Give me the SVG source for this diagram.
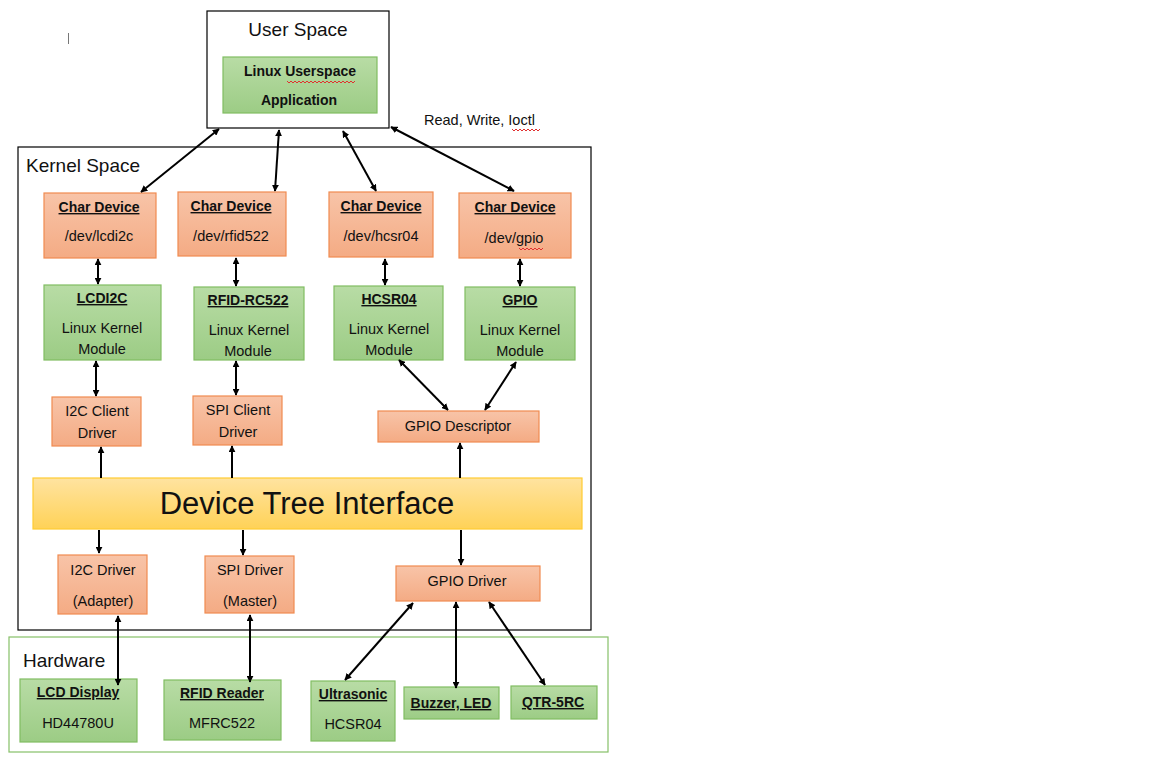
<svg xmlns="http://www.w3.org/2000/svg" width="1152" height="757" viewBox="0 0 1152 757">
<defs>
<linearGradient id="gOr" x1="0" y1="0" x2="0" y2="1"><stop offset="0" stop-color="#f8c4a8"/><stop offset="1" stop-color="#f4ab84"/></linearGradient>
<linearGradient id="gGr" x1="0" y1="0" x2="0" y2="1"><stop offset="0" stop-color="#b8dca5"/><stop offset="1" stop-color="#9ccc85"/></linearGradient>
<linearGradient id="gYe" x1="0" y1="0" x2="0" y2="1"><stop offset="0" stop-color="#ffe3a0"/><stop offset="1" stop-color="#ffd257"/></linearGradient>
<marker id="ah" viewBox="0 0 10 10" refX="9" refY="5" markerWidth="7" markerHeight="7" orient="auto-start-reverse" markerUnits="userSpaceOnUse"><path d="M0,0 L10,5 L0,10 Z" fill="#000"/></marker>
</defs>
<style>
text{font-family:"Liberation Sans",Arial,sans-serif;fill:#111}
.or{fill:url(#gOr);stroke:#f08b50;stroke-width:1.2}
.gr{fill:url(#gGr);stroke:#80bd62;stroke-width:1.2}
.t{font-size:14.5px;text-anchor:middle}
.b{font-size:14px;font-weight:bold;text-anchor:middle;text-decoration:underline}
.h{font-size:19px}
.c line{stroke:#000;stroke-width:2}
.d{marker-start:url(#ah);marker-end:url(#ah)}
.s{marker-end:url(#ah)}
.sq{fill:none;stroke:#e03030;stroke-width:1}
</style>
<rect width="1152" height="757" fill="#fff"/>
<line x1="68.5" y1="33" x2="68.5" y2="44" stroke="#777" stroke-width="1"/>

<g id="kernel"><rect x="18" y="147" width="573" height="483" fill="none" stroke="#000" stroke-width="1.2"/><text x="26" y="172" class="h">Kernel Space</text></g>
<g id="hardware"><rect x="9" y="637" width="599" height="115" fill="none" stroke="#86c068" stroke-width="1.2"/><text x="23" y="667" class="h">Hardware</text></g>
<g id="userspace"><rect x="207" y="11" width="182" height="117" fill="#fff" stroke="#000" stroke-width="1.2"/><text x="298" y="36" class="h" text-anchor="middle">User Space</text></g>
<g id="app"><rect x="223" y="57" width="154" height="56" class="gr"/><text x="300" y="76" class="b" style="text-decoration:none">Linux Userspace</text><text x="299" y="105" class="b" style="text-decoration:none">Application</text><path class="sq" d="M287,81 l2,2 l2,-2 l2,2 l2,-2 l2,2 l2,-2 l2,2 l2,-2 l2,2 l2,-2 l2,2 l2,-2 l2,2 l2,-2 l2,2 l2,-2 l2,2 l2,-2 l2,2 l2,-2 l2,2 l2,-2 l2,2 l2,-2 l2,2 l2,-2 l2,2 l2,-2 l2,2 l2,-2 l2,2 l2,-2 l2,2 l2,-2"/></g>
<g id="rwlabel"><text x="424" y="125" font-size="14.5px">Read, Write, Ioctl</text><path class="sq" d="M512,129 l2,2 l2,-2 l2,2 l2,-2 l2,2 l2,-2 l2,2 l2,-2 l2,2 l2,-2 l2,2 l2,-2 l2,2 l2,-2"/></g>

<g id="cd1"><rect x="44" y="193" width="112" height="65" class="or"/><text x="99" y="212" class="b">Char Device</text><text x="99" y="241" class="t">/dev/lcdi2c</text></g>
<g id="cd2"><rect x="178" y="192" width="108" height="64" class="or"/><text x="231" y="211" class="b">Char Device</text><text x="231" y="241" class="t">/dev/rfid522</text></g>
<g id="cd3"><rect x="329" y="192" width="104" height="65" class="or"/><text x="381" y="211" class="b">Char Device</text><text x="381" y="241" class="t">/dev/hcsr04</text></g>
<g id="cd4"><rect x="459" y="193" width="112" height="65" class="or"/><text x="515" y="212" class="b">Char Device</text><text x="514" y="243" class="t">/dev/gpio</text><path class="sq" d="M519,248 l2,2 l2,-2 l2,2 l2,-2 l2,2 l2,-2 l2,2 l2,-2 l2,2 l2,-2 l2,2 l2,-2"/></g>

<g id="m1"><rect x="44" y="285" width="117" height="75" class="gr"/><text x="102" y="303" class="b">LCDI2C</text><text x="102" y="333" class="t">Linux Kernel</text><text x="102" y="354" class="t">Module</text></g>
<g id="m2"><rect x="194" y="287" width="110" height="73" class="gr"/><text x="248" y="305" class="b">RFID-RC522</text><text x="249" y="335" class="t">Linux Kernel</text><text x="248" y="356" class="t">Module</text></g>
<g id="m3"><rect x="334" y="286" width="109" height="74" class="gr"/><text x="389" y="304" class="b">HCSR04</text><text x="389" y="334" class="t">Linux Kernel</text><text x="389" y="355" class="t">Module</text></g>
<g id="m4"><rect x="465" y="287" width="110" height="73" class="gr"/><text x="520" y="305" class="b">GPIO</text><text x="520" y="335" class="t">Linux Kernel</text><text x="520" y="356" class="t">Module</text></g>

<g id="i2cc"><rect x="52" y="397" width="89" height="49" class="or"/><text x="97" y="416" class="t">I2C Client</text><text x="97" y="438" class="t">Driver</text></g>
<g id="spic"><rect x="193" y="396" width="89" height="49" class="or"/><text x="238" y="415" class="t">SPI Client</text><text x="238" y="437" class="t">Driver</text></g>
<g id="gpiod"><rect x="378" y="411" width="161" height="31" class="or"/><text x="458" y="431" class="t">GPIO Descriptor</text></g>

<g id="dti"><rect x="33" y="478" width="549" height="51" fill="url(#gYe)" stroke="#ffcc33" stroke-width="1.2"/><text x="307" y="514" font-size="31px" text-anchor="middle">Device Tree Interface</text></g>

<g id="i2cd"><rect x="58" y="555" width="89" height="59" class="or"/><text x="103" y="575" class="t">I2C Driver</text><text x="103" y="606" class="t">(Adapter)</text></g>
<g id="spid"><rect x="205" y="556" width="89" height="57" class="or"/><text x="250" y="575" class="t">SPI Driver</text><text x="250" y="606" class="t">(Master)</text></g>
<g id="gpiodrv"><rect x="396" y="566" width="144" height="35" class="or"/><text x="467" y="586" class="t">GPIO Driver</text></g>

<g id="lcd"><rect x="20" y="679" width="117" height="63" class="gr"/><text x="78" y="697" class="b">LCD Display</text><text x="78" y="728" class="t">HD44780U</text></g>
<g id="rfid"><rect x="164" y="680" width="117" height="60" class="gr"/><text x="222" y="698" class="b">RFID Reader</text><text x="222" y="728" class="t">MFRC522</text></g>
<g id="ultra"><rect x="311" y="681" width="84" height="60" class="gr"/><text x="353" y="699" class="b">Ultrasonic</text><text x="353" y="729" class="t">HCSR04</text></g>
<g id="buzz"><rect x="404" y="687" width="95" height="32" class="gr"/><text x="451" y="708" class="b">Buzzer, LED</text></g>
<g id="qtr"><rect x="511" y="686" width="86" height="33" class="gr"/><text x="553" y="707" class="b">QTR-5RC</text></g>

<g id="connectors" class="c">
<line class="d" x1="219" y1="129" x2="141" y2="192"/>
<line class="d" x1="279" y1="130" x2="275" y2="191"/>
<line class="d" x1="343" y1="131" x2="376" y2="191"/>
<line class="d" x1="391" y1="127" x2="514" y2="191"/>
<line class="d" x1="98" y1="259" x2="98" y2="284"/>
<line class="d" x1="236" y1="258" x2="236" y2="286"/>
<line class="d" x1="385" y1="259" x2="385" y2="285"/>
<line class="d" x1="520" y1="259" x2="520" y2="286"/>
<line class="d" x1="96" y1="361" x2="96" y2="396"/>
<line class="d" x1="236" y1="361" x2="236" y2="395"/>
<line class="d" x1="399" y1="360" x2="448" y2="410"/>
<line class="d" x1="516" y1="362" x2="485" y2="410"/>
<line class="s" x1="101" y1="478" x2="101" y2="447"/>
<line class="s" x1="232" y1="478" x2="232" y2="446"/>
<line class="s" x1="460" y1="478" x2="460" y2="443"/>
<line class="s" x1="99" y1="530" x2="99" y2="553"/>
<line class="s" x1="243" y1="530" x2="243" y2="555"/>
<line class="s" x1="461" y1="530" x2="461" y2="565"/>
<line class="d" x1="118" y1="616" x2="118" y2="685"/>
<line class="d" x1="250" y1="615" x2="250" y2="682"/>
<line class="d" x1="413" y1="603" x2="345" y2="680"/>
<line class="d" x1="456" y1="602" x2="456" y2="688"/>
<line class="d" x1="489" y1="602" x2="545" y2="685"/>
</g>
</svg>
